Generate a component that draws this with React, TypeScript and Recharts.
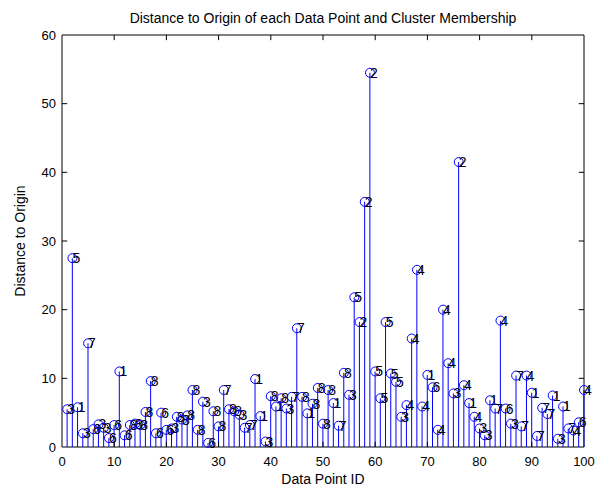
import {
  ComposedChart,
  Bar,
  Scatter,
  XAxis,
  YAxis,
  ReferenceLine,
  ReferenceArea,
} from 'recharts';

// distance of each data point (ids 1..100) to the origin
const distances = [
  5.5, 27.5, 5.8, 2.0, 15.1, 2.6, 3.3, 2.8, 1.3, 3.2,
  11.0, 1.7, 3.2, 3.4, 3.2, 5.1, 9.6, 2.0, 5.0, 2.5,
  2.7, 4.4, 4.0, 4.6, 8.3, 2.5, 6.6, 0.6, 5.2, 3.0,
  8.3, 5.5, 5.2, 4.7, 2.8, 3.2, 9.9, 4.5, 0.8, 7.4,
  5.9, 7.1, 5.6, 7.3, 17.3, 7.3, 4.9, 6.3, 8.6, 3.4,
  8.3, 6.4, 3.1, 10.8, 7.6, 21.8, 18.2, 35.7, 54.5, 11.0,
  7.1, 18.2, 10.7, 9.5, 4.4, 6.1, 15.8, 25.8, 5.9, 10.5,
  8.7, 2.5, 20.0, 12.2, 7.8, 41.5, 9.0, 6.4, 4.4, 2.7,
  1.7, 6.8, 5.6, 18.4, 5.6, 3.4, 10.4, 3.0, 10.4, 7.9,
  1.6, 5.7, 4.8, 7.5, 1.2, 5.9, 2.7, 2.4, 3.6, 8.3,
];

// cluster each point was assigned to
const clusters = [
  3, 5, 1, 3, 7, 6, 3, 3, 6, 6,
  1, 6, 8, 8, 8, 8, 8, 6, 6, 6,
  3, 8, 8, 8, 8, 8, 3, 6, 8, 8,
  7, 8, 8, 3, 7, 7, 1, 1, 3, 8,
  1, 8, 3, 7, 7, 8, 1, 8, 8, 8,
  8, 1, 7, 8, 3, 5, 2, 2, 2, 5,
  5, 5, 5, 5, 3, 4, 4, 4, 4, 1,
  6, 4, 4, 4, 3, 2, 4, 1, 4, 3,
  3, 1, 7, 4, 6, 3, 7, 7, 4, 1,
  7, 7, 7, 1, 3, 1, 7, 4, 6, 4,
];

const xTicks = [0, 10, 20, 30, 40, 50, 60, 70, 80, 90, 100];
const yTicks = [0, 10, 20, 30, 40, 50, 60];

const points = distances.map((d, i) => ({ id: i + 1, dist: d, cluster: clusters[i] }));

const FONT = "'Liberation Sans', Arial, sans-serif";
const BLUE = '#0000ff';

// stem head: open circle with the cluster number written next to it
const StemHead = (props: any) => {
  const { cx, cy, payload } = props;
  return (
    <g>
      <circle cx={cx} cy={cy} r={4.5} fill="none" stroke={BLUE} strokeWidth={1} />
      <text x={cx} y={cy + 5} fontSize={14} fill="#000">
        {payload.cluster}
      </text>
    </g>
  );
};

export default function App() {
  return (
    <div style={{ position: 'relative', width: 595, height: 481, fontFamily: FONT, background: '#fff' }}>
      <div
        style={{
          position: 'absolute',
          left: 54,
          width: 522,
          top: 2,
          textAlign: 'center',
          fontSize: 14,
          color: '#000',
        }}
      >
        Distance to Origin of each Data Point and Cluster Membership
      </div>
      <ComposedChart
        width={595}
        height={481}
        data={points}
        margin={{ top: 27, right: 19, left: 24, bottom: 2 }}
      >
        <XAxis
          dataKey="id"
          type="number"
          domain={[0, 100]}
          ticks={xTicks}
          tickLine={false}
          axisLine={false}
          tickMargin={4}
          height={40}
          tick={{ fill: '#000', fontSize: 13 }}
          label={{ value: 'Data Point ID', position: 'insideBottom', fill: '#000', fontSize: 14, dy: 2 }}
        />
        <YAxis
          type="number"
          domain={[0, 60]}
          ticks={yTicks}
          tickLine={false}
          axisLine={false}
          tickMargin={0}
          width={30}
          tick={{ fill: '#000', fontSize: 13 }}
          label={{
            value: 'Distance to Origin',
            angle: -90,
            position: 'insideLeft',
            fill: '#000',
            fontSize: 14,
            dx: -17,
            style: { textAnchor: 'middle' },
          }}
        />
        <ReferenceArea x1={0} x2={100} y1={0} y2={60} fill="none" stroke="#000" strokeWidth={1} />
        {xTicks.slice(1, -1).map((t) => (
          <ReferenceLine key={'b' + t} segment={[{ x: t, y: 0 }, { x: t, y: 0.75 }]} stroke="#000" />
        ))}
        {xTicks.slice(1, -1).map((t) => (
          <ReferenceLine key={'t' + t} segment={[{ x: t, y: 60 }, { x: t, y: 59.25 }]} stroke="#000" />
        ))}
        {yTicks.slice(1, -1).map((t) => (
          <ReferenceLine key={'l' + t} segment={[{ x: 0, y: t }, { x: 1, y: t }]} stroke="#000" />
        ))}
        {yTicks.slice(1, -1).map((t) => (
          <ReferenceLine key={'r' + t} segment={[{ x: 100, y: t }, { x: 99, y: t }]} stroke="#000" />
        ))}
        <Bar dataKey="dist" barSize={1} fill={BLUE} isAnimationActive={false} />
        <Scatter dataKey="dist" shape={StemHead} isAnimationActive={false} />
      </ComposedChart>
    </div>
  );
}
